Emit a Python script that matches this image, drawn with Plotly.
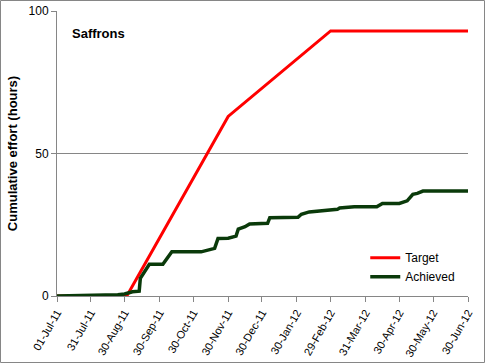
import plotly.graph_objects as go

# Target series
target_dates = ["2011-07-01", "2011-09-01", "2011-11-30", "2012-02-29", "2012-06-30"]
target_values = [0, 0, 63, 93, 93]

# Achieved series
achieved_dates = [
    "2011-07-01", "2011-07-30", "2011-08-02", "2011-08-24", "2011-08-30",
    "2011-09-06", "2011-09-12", "2011-09-13", "2011-09-21", "2011-10-03",
    "2011-10-11", "2011-11-06", "2011-11-14", "2011-11-18", "2011-11-21",
    "2011-11-30", "2011-12-07", "2011-12-09", "2011-12-15", "2011-12-19",
    "2012-01-04", "2012-01-06", "2012-01-31", "2012-02-03", "2012-02-10",
    "2012-02-19", "2012-03-06", "2012-03-08", "2012-03-21", "2012-04-10",
    "2012-04-15", "2012-04-30", "2012-05-07", "2012-05-12", "2012-05-16",
    "2012-05-21", "2012-06-30",
]
achieved_values = [
    0, 0, 0.3, 0.4, 0.7,
    1.5, 1.7, 6.2, 11.1, 11.1,
    15.5, 15.5, 16.4, 16.7, 20.2,
    20.3, 21.0, 23.5, 24.3, 25.3,
    25.5, 27.5, 27.6, 28.7, 29.5,
    29.9, 30.4, 30.9, 31.3, 31.3,
    32.5, 32.5, 33.4, 35.7, 36.0,
    36.8, 36.8,
]

tick_dates = ["2011-07-01", "2011-07-31", "2011-08-30", "2011-09-30", "2011-10-30",
              "2011-11-30", "2011-12-30", "2012-01-30", "2012-02-29", "2012-03-31",
              "2012-04-30", "2012-05-30", "2012-06-30"]
tick_labels = ["01-Jul-11", "31-Jul-11", "30-Aug-11", "30-Sep-11", "30-Oct-11",
               "30-Nov-11", "30-Dec-11", "30-Jan-12", "29-Feb-12", "31-Mar-12",
               "30-Apr-12", "30-May-12", "30-Jun-12"]
y_ticks = [0, 50, 100]

FONT = "Liberation Sans"
fig = go.Figure()
fig.add_trace(go.Scatter(x=target_dates, y=target_values, mode="lines", name="Target",
                         line=dict(color="#FF0000", width=3)))
fig.add_trace(go.Scatter(x=achieved_dates, y=achieved_values, mode="lines", name="Achieved",
                         line=dict(color="#0A3A0A", width=3.5)))

W, H = 485, 363
L, R, T, B = 57, 17, 11, 67
pw, ph = W - L - R, H - T - B

fig.update_layout(
    width=W, height=H,
    margin=dict(l=L, r=R, t=T, b=B, autoexpand=False),
    paper_bgcolor="white", plot_bgcolor="white",
    font=dict(family=FONT, size=11, color="black"),
    xaxis=dict(range=[tick_dates[0], tick_dates[-1]], tickvals=tick_dates, ticktext=tick_labels,
               tickangle=-60, showgrid=False, showline=True, linecolor="#868686", linewidth=1,
               ticks="outside", ticklen=5, tickcolor="#868686", zeroline=False,
               tickfont=dict(size=11), automargin=False),
    yaxis=dict(range=[0, 100], tickvals=y_ticks, showgrid=True, gridcolor="#868686", gridwidth=1,
               showline=True, linecolor="#868686", linewidth=1, ticks="outside", ticklen=5,
               tickcolor="#868686", zeroline=False, tickfont=dict(size=12), automargin=False,
               title=dict(text="<b>Cumulative effort (hours)</b>", font=dict(size=13), standoff=8)),
    legend=dict(x=0.75, y=0.185, xanchor="left", yanchor="top", bgcolor="rgba(0,0,0,0)",
                font=dict(size=12), tracegroupgap=0, itemwidth=30),
    annotations=[dict(text="<b>Saffrons</b>", x=13 / pw, y=1 - 22 / ph, xref="paper", yref="paper",
                      xanchor="left", yanchor="middle", showarrow=False, font=dict(size=13))],
    shapes=[dict(type="rect", xref="paper", yref="paper",
                 x0=(-L + 0.5) / pw, x1=1 + (R - 0.5) / pw,
                 y0=(-B + 0.5) / ph, y1=1 + (T - 0.5) / ph,
                 line=dict(color="#868686", width=1))],
)

fig.write_html("out.html", config={"displayModeBar": False},
               post_script="document.body.style.margin='0px';")
